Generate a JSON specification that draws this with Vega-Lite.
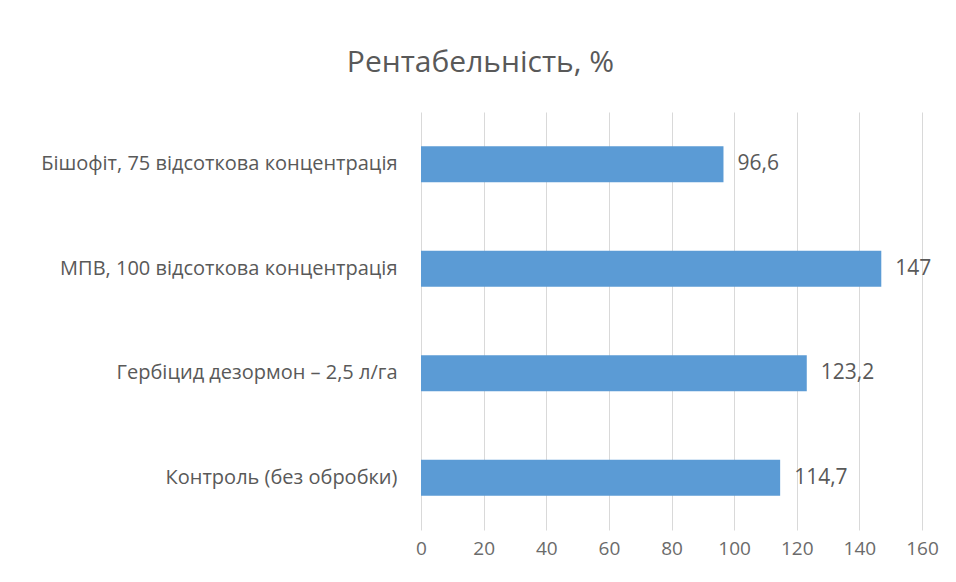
{
  "$schema": "https://vega.github.io/schema/vega-lite/v6.json",
  "width": 501,
  "height": 418,
  "autosize": {"type": "none"},
  "padding": {"left": 421, "top": 112, "right": 34, "bottom": 52},
  "background": "white",
  "title": {
    "text": "Рентабельність, %",
    "anchor": "middle",
    "dx": -191,
    "offset": 34,
    "fontSize": 30,
    "font": "Open Sans",
    "fontWeight": "normal",
    "color": "#595959"
  },
  "data": {
    "values": [
      {"variant": "Бішофіт, 75 відсоткова концентрація", "value": 96.6, "label": "96,6"},
      {"variant": "МПВ, 100 відсоткова концентрація", "value": 147, "label": "147"},
      {"variant": "Гербіцид дезормон – 2,5 л/га", "value": 123.2, "label": "123,2"},
      {"variant": "Контроль (без обробки)", "value": 114.7, "label": "114,7"}
    ]
  },
  "encoding": {
    "y": {
      "field": "variant",
      "type": "nominal",
      "sort": null,
      "title": null,
      "scale": {"paddingInner": 0.655, "paddingOuter": 0.3275},
      "axis": {
        "domain": false,
        "ticks": false,
        "labelPadding": 24,
        "labelFontSize": 20,
        "labelFont": "Open Sans",
        "labelColor": "#595959",
        "labelLimit": 420
      }
    },
    "x": {
      "field": "value",
      "type": "quantitative",
      "title": null,
      "scale": {"domain": [0, 160], "nice": false},
      "axis": {
        "values": [0, 20, 40, 60, 80, 100, 120, 140, 160],
        "domain": false,
        "ticks": false,
        "grid": true,
        "gridColor": "#d9d9d9",
        "gridWidth": 1,
        "labelFlush": false,
        "labelPadding": 9,
        "labelFontSize": 19,
        "labelFont": "Open Sans",
        "labelColor": "#6b6b6b"
      }
    }
  },
  "layer": [
    {"mark": {"type": "bar", "color": "#5b9bd5"}},
    {
      "mark": {"type": "text", "align": "left", "baseline": "middle", "dx": 14, "fontSize": 21, "font": "Open Sans", "color": "#595959"},
      "encoding": {"text": {"field": "label"}}
    }
  ],
  "config": {"view": {"stroke": null}}
}
